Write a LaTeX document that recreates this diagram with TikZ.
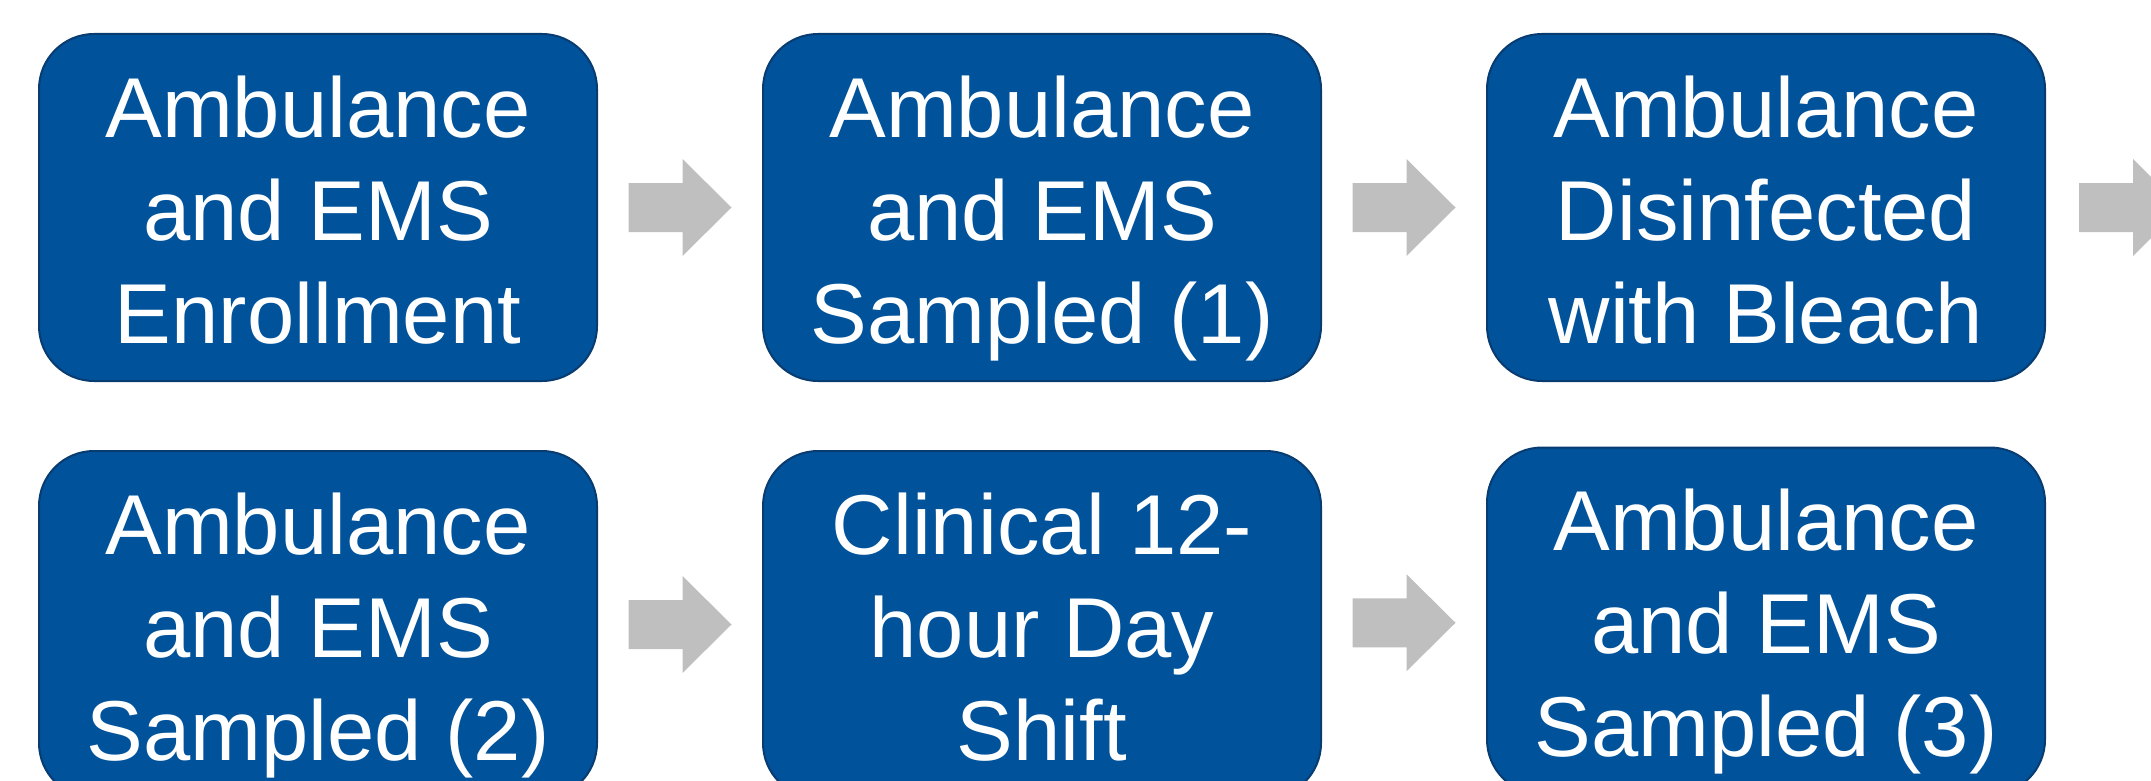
\documentclass[tikz,border=0pt]{standalone}
\usepackage{fontspec}
\setmainfont{Liberation Sans}
\usetikzlibrary{calc}
\definecolor{boxblue}{RGB}{0,82,155}
\definecolor{boxedge}{RGB}{8,60,112}
\definecolor{arrowgray}{RGB}{191,191,191}
\newcommand{\bxline}[1]{\smash{#1}\rule[-5pt]{0pt}{42.5pt}}
\tikzset{
  stagebox/.style={draw=boxedge, line width=1pt, fill=boxblue, rounded corners=27.5pt,
    minimum width=279pt, minimum height=173.5pt, inner sep=0pt, align=center,
    text=white, font=\fontsize{42.5pt}{51.5pt}\selectfont},
  blockarrow/.pic={\fill[arrowgray] (-51.5,-24.5) -- (2.5,-24.5) -- (2.5,-48.5) -- (51.5,0)
     -- (2.5,48.5) -- (2.5,24.5) -- (-51.5,24.5) -- cycle;}
}
\begin{document}
\begin{tikzpicture}[x=0.5pt, y=-0.5pt]
\useasboundingbox (0,0) rectangle (2151,781);
\clip (0,0) rectangle (2151,781);
\node[stagebox] (b1) at (318,207.5) {\bxline{Ambulance}\\\bxline{and EMS}\\\bxline{Enrollment}};
\node[stagebox] (b2) at (1042,207.5) {\bxline{Ambulance}\\\bxline{and EMS}\\\bxline{Sampled (1)}};
\node[stagebox] (b3) at (1766,207.5) {\bxline{Ambulance}\\\bxline{Disinfected}\\\bxline{with Bleach}};
\node[stagebox] (b4) at (318,624.5) {\bxline{Ambulance}\\\bxline{and EMS}\\\bxline{Sampled (2)}};
\node[stagebox] (b5) at (1042,624.5) {\bxline{Clinical 12-}\\\bxline{hour Day}\\\bxline{Shift}};
\node[stagebox] (b6) at (1766,621) {\bxline{Ambulance}\\\bxline{and EMS}\\\bxline{Sampled (3)}};
\coordinate (a1) at ($(b1.east)!0.5!(b2.west)$);
\coordinate (a2) at ($(b2.east)!0.5!(b3.west)$);
\coordinate (a3) at ($(b3.east)+(84.5,0)$);
\coordinate (a4) at ($(b4.east)!0.5!(b5.west)$);
\coordinate (a5) at ($(b5.east)!0.5!(b6.west)$);
\pic at (a1) {blockarrow};
\pic at (a2) {blockarrow};
\pic at (a3) {blockarrow};
\pic at (a4) {blockarrow};
\pic at (a5) {blockarrow};
\end{tikzpicture}
\end{document}
